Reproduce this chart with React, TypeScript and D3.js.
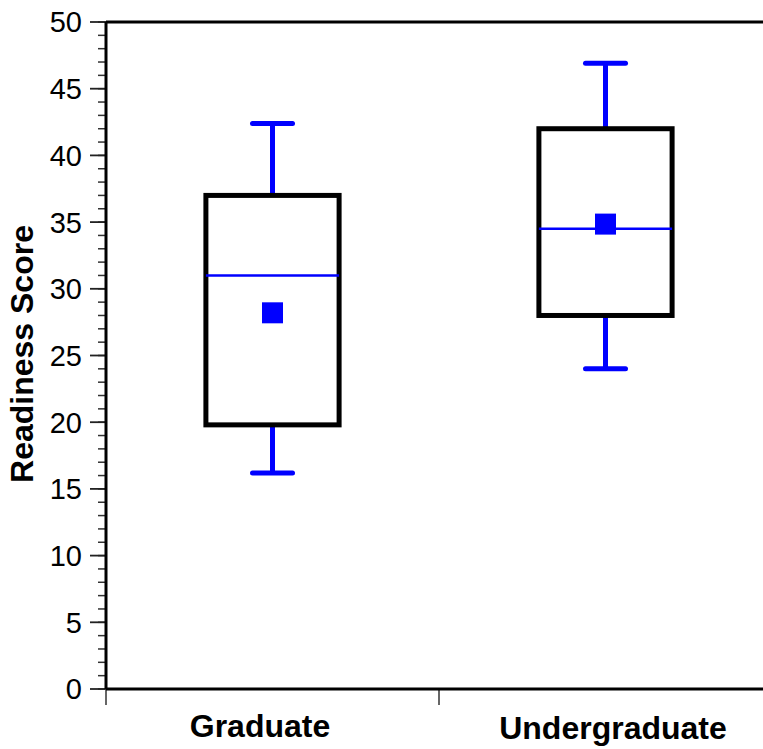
import React from "react";
import * as d3 from "d3";

const categories = ["Graduate", "Undergraduate"];
const whiskerLow = [16.2, 24.0];
const q1 = [19.8, 28.0];
const median = [31.0, 34.5];
const q3 = [37.0, 42.0];
const whiskerHigh = [42.4, 46.9];
const means = [28.2, 34.85];
const yTicks = [0, 5, 10, 15, 20, 25, 30, 35, 40, 45, 50];
const minorTicks = d3.range(0, 51, 1);

const W = 763;
const H = 749;
const font = "'Liberation Sans', Arial, Helvetica, sans-serif";

export default function App() {
  const y = d3.scaleLinear().domain([0, 50]).range([689, 22]);
  const x = d3.scaleBand<string>().domain(categories).range([106, 772]).padding(0);
  const bw = x.bandwidth();
  const boxW = bw * 0.4;
  const capW = 40;
  const blue = "#0000ff";

  return (
    <svg width={W} height={H} style={{ position: "absolute", left: 0, top: 0, background: "#fff" }}>
      {minorTicks.map((t) => (
        <line key={"m" + t} x1={98} x2={106} y1={y(t)} y2={y(t)} stroke="#333" strokeWidth={1.5} />
      ))}
      {yTicks.map((t) => (
        <g key={"t" + t}>
          <line x1={90} x2={106} y1={y(t)} y2={y(t)} stroke="#222" strokeWidth={1.8} />
          <text x={82} y={y(t)} dy="0.36em" textAnchor="end" fontFamily={font} fontSize={29} fill="#000">
            {t}
          </text>
        </g>
      ))}
      {[106, 106 + bw].map((xx, i) => (
        <line key={"xt" + i} x1={xx} x2={xx} y1={689} y2={705} stroke="#333" strokeWidth={1.5} />
      ))}
      <line x1={106} x2={772} y1={22} y2={22} stroke="#000" strokeWidth={3} />
      <line x1={106} x2={772} y1={689} y2={689} stroke="#000" strokeWidth={3} />
      <line x1={106} x2={106} y1={22} y2={689} stroke="#000" strokeWidth={3} />

      {categories.map((c, i) => {
        const cx = (x(c) as number) + bw / 2;
        return (
          <g key={c}>
            <line x1={cx} x2={cx} y1={y(q3[i])} y2={y(whiskerHigh[i])} stroke={blue} strokeWidth={5} />
            <line x1={cx} x2={cx} y1={y(q1[i])} y2={y(whiskerLow[i])} stroke={blue} strokeWidth={5} />
            <line x1={cx - capW / 2} x2={cx + capW / 2} y1={y(whiskerHigh[i])} y2={y(whiskerHigh[i])} stroke={blue} strokeWidth={5} strokeLinecap="round" />
            <line x1={cx - capW / 2} x2={cx + capW / 2} y1={y(whiskerLow[i])} y2={y(whiskerLow[i])} stroke={blue} strokeWidth={5} strokeLinecap="round" />
            <rect x={cx - boxW / 2} y={y(q3[i])} width={boxW} height={y(q1[i]) - y(q3[i])} fill="#fff" stroke="#000" strokeWidth={5} />
            <line x1={cx - boxW / 2} x2={cx + boxW / 2} y1={y(median[i])} y2={y(median[i])} stroke={blue} strokeWidth={2.5} />
            <rect x={cx - 10.5} y={y(means[i]) - 10.5} width={21} height={21} fill={blue} />
          </g>
        );
      })}

      <text x={260} y={737} textAnchor="middle" fontFamily={font} fontWeight="bold" fontSize={32} fill="#000">
        Graduate
      </text>
      <text x={613} y={739} textAnchor="middle" fontFamily={font} fontWeight="bold" fontSize={32} fill="#000">
        Undergraduate
      </text>
      <text transform={`translate(33, 354) rotate(-90)`} textAnchor="middle" fontFamily={font} fontWeight="bold" fontSize={32} fill="#000">
        Readiness Score
      </text>
    </svg>
  );
}
